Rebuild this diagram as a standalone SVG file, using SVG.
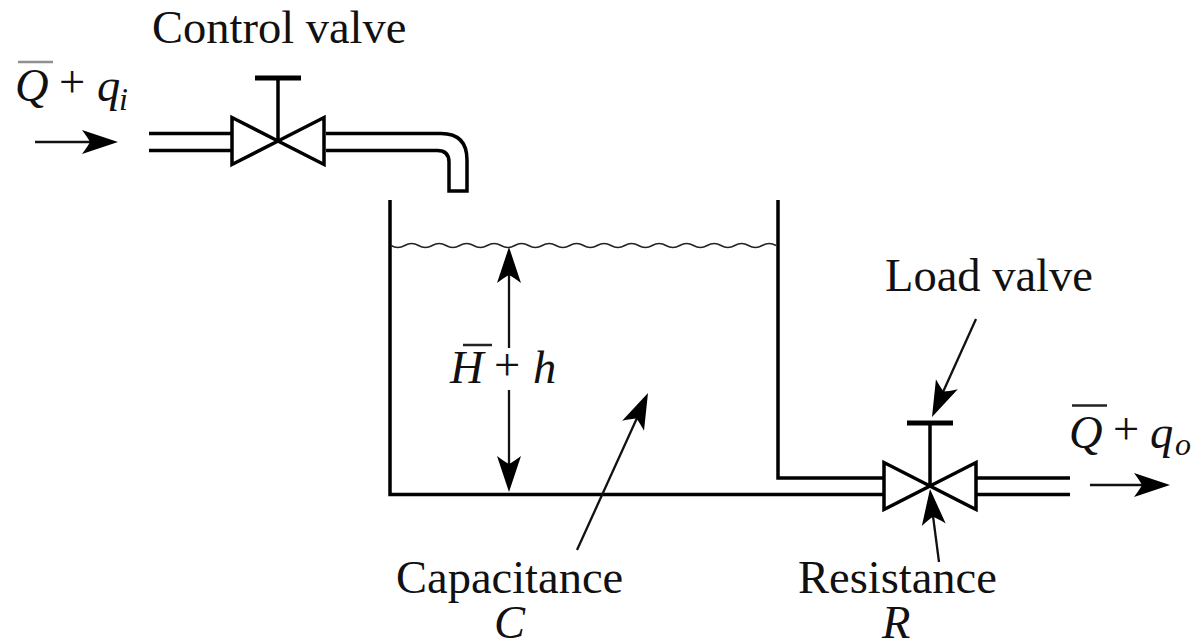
<svg xmlns="http://www.w3.org/2000/svg" width="1195" height="642" viewBox="0 0 1195 642">
<defs>
<path id="head" d="M0,0 L-36,-12 Q-30,-4 -28,0 Q-30,4 -36,12 Z" fill="#000"/>
<g id="valve"><path class="thick" d="M0,0 L-46,-23.500 V23.500 Z M0,0 L46,-23.500 V23.500 Z" fill="#fff"/><path class="thick" d="M0,0 V-63"/><path class="handle" d="M-23,-63 H23"/></g>
</defs>
<style>
.thick{fill:none;stroke:#000;stroke-width:3.500}
#valves .thick{stroke-linejoin:miter}
.handle{fill:none;stroke:#000;stroke-width:5}
.thin{fill:none;stroke:#111;stroke-width:2.300}
.pipe{fill:none;stroke:#000;stroke-width:3.500}
text{font-family:"Liberation Serif","Times New Roman",serif;font-size:46.500px;fill:#111}
.i{font-style:italic}
.sub{font-style:italic;font-size:32px}
.bar{stroke:#222;stroke-width:2.500;fill:none}
</style>
<rect width="1195" height="642" fill="#fff"/>
<g id="connectors">
<path class="pipe" d="M149,133.500 H231 M149,150.500 H231 M326,133.500 H441 Q467,133.500 467,160 V191 H449 V162 Q449,150.500 437,150.500 H326"/>
<path class="pipe" d="M390,200 V494.500 H883 M778,200 V478 H883 M977,478 H1070 M977,494.500 H1070"/>
<path d="M391,245.500 q6.875,4 13.750,0 t13.750,0 t13.750,0 t13.750,0 t13.750,0 t13.750,0 t13.750,0 t13.750,0 t13.750,0 t13.750,0 t13.750,0 t13.750,0 t13.750,0 t13.750,0 t13.750,0 t13.750,0 t13.750,0 t13.750,0 t13.750,0 t13.750,0 t13.750,0 t13.750,0 t13.750,0 t13.750,0 t13.750,0 t13.750,0 t13.750,0 t13.750,0" fill="none" stroke="#222" stroke-width="1.500"/>
<path class="thin" d="M35,142 H90"/><use href="#head" transform="translate(118,142)"/>
<path class="thin" d="M1090,485 H1142"/><use href="#head" transform="translate(1170,485)"/>
<path class="thin" d="M509,270 V348 M509,390 V470"/><use href="#head" transform="translate(509,247) rotate(-90)"/><use href="#head" transform="translate(509,492) rotate(90)"/>
<path class="thin" d="M577,550 L637,418"/><use href="#head" transform="translate(648,393) rotate(-65.500)"/>
<path class="thin" d="M976,319 L943,392"/><use href="#head" transform="translate(932,417) rotate(114.400)"/>
<path class="thin" d="M939,562 L933,516"/><use href="#head" transform="translate(930,489) rotate(-96)"/>
</g>
<g id="valves">
<g id="control-valve"><use href="#valve" transform="translate(278,141)"/></g>
<g id="load-valve"><use href="#valve" transform="translate(930,486)"/></g>
</g>
<g id="labels">
<text id="label-control" x="152" y="43">Control valve</text>
<g id="label-qi"><text x="15" y="101" class="i">Q</text><path class="bar" d="M18,62 H53" stroke-opacity="0.500"/><text x="59" y="97">+</text><text x="97" y="101" class="i">q</text><text x="119" y="110" class="sub">i</text></g>
<g id="label-h"><text x="450" y="383" class="i">H</text><path class="bar" d="M463,345 H492"/><text x="494" y="380">+</text><text x="533" y="383" class="i">h</text></g>
<text id="label-load" x="885" y="291">Load valve</text>
<g id="label-qo"><text x="1069" y="448" class="i">Q</text><path class="bar" d="M1072,405.500 H1107"/><text x="1113" y="444">+</text><text x="1150" y="448" class="i">q</text><text x="1175" y="455" class="sub">o</text></g>
<text id="label-c" x="396" y="593">Capacitance<tspan x="494" y="638" class="i">C</tspan></text>
<text id="label-r" x="798" y="593">Resistance<tspan x="882" y="638" class="i">R</tspan></text>
</g>
</svg>
